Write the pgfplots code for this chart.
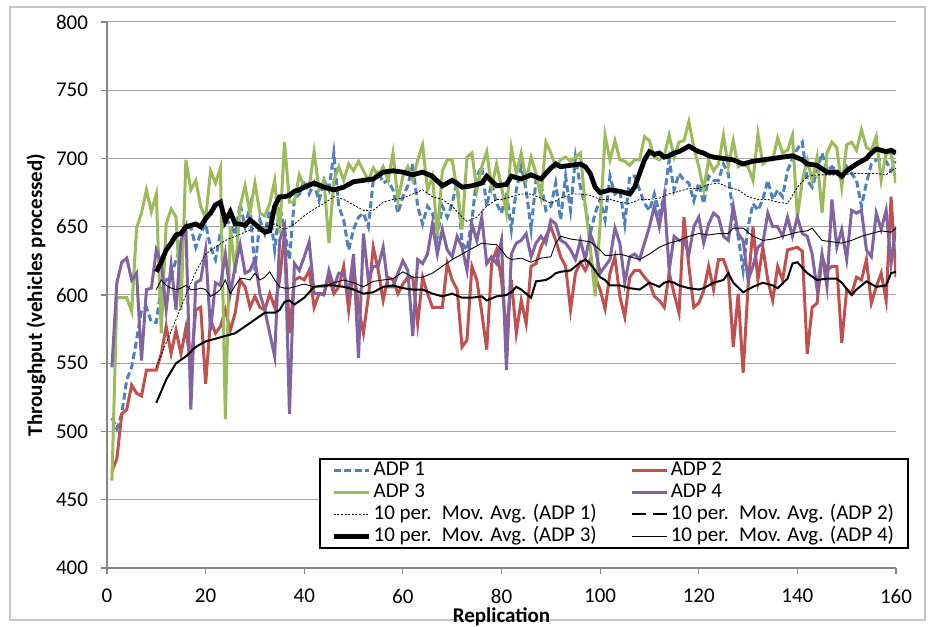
\documentclass[border=0pt]{standalone}
\usepackage{pgfplots}
\pgfplotsset{compat=1.18}
\usepackage{pgfplotstable}
\usepackage{fontspec}
\setmainfont{Carlito}
\definecolor{cBlue}{HTML}{4F81BD}
\definecolor{cRed}{HTML}{C0504D}
\definecolor{cGreen}{HTML}{9BBB59}
\definecolor{cPurple}{HTML}{8064A2}
\definecolor{cAxis}{HTML}{868686}
\definecolor{cGrid}{HTML}{A6A6A6}

\pgfplotstableread{
rep a1 a2 a3 a4
1 510 471 464 547
2 502 480 598 609
3 513 513 598 624
4 538 516 598 627
5 547 534 588 611
6 567 528 649 616
7 589 526 660 552
8 591 545 677 604
9 580 545 661 605
10 580 545 674 633
11 606 557 572 624
12 611 577 652 589
13 613 557 663 622
14 626 574 657 589
15 635 557 589 640
16 648 576 699 650
17 650 547 677 516
18 635 589 684 609
19 645 591 665 611
20 652 535 656 633
21 635 582 691 574
22 626 572 682 609
23 646 577 693 607
24 655 589 509 630
25 652 574 650 601
26 644 587 616 621
27 667 611 665 637
28 650 606 680 616
29 665 591 660 618
30 618 599 682 626
31 655 591 660 601
32 645 589 658 589
33 662 601 667 572
34 633 591 684 555
35 665 611 645 640
36 648 645 712 650
37 626 572 668 513
38 670 611 668 623
39 674 613 688 618
40 684 611 679 628
41 674 618 679 639
42 682 591 705 601
43 669 601 677 601
44 684 601 684 600
45 677 613 638 618
46 704 601 684 606
47 665 606 694 616
48 655 621 684 616
49 633 589 696 601
50 648 621 691 630
51 657 591 698 554
52 660 572 691 645
53 650 599 684 611
54 684 635 693 621
55 691 618 687 621
56 682 596 694 635
57 684 613 684 606
58 677 611 704 606
59 660 601 669 616
60 672 608 687 625
61 680 613 694 618
62 696 613 684 570
63 665 579 699 626
64 652 613 710 623
65 665 601 677 630
66 660 591 687 652
67 643 591 643 630
68 665 591 691 648
69 657 623 699 633
70 667 611 699 628
71 684 604 677 643
72 638 562 648 635
73 633 567 701 618
74 655 621 704 652
75 687 611 677 640
76 694 587 694 657
77 665 560 705 623
78 682 623 679 628
79 667 633 696 623
80 660 611 679 640
81 675 572 660 545
82 648 611 708 630
83 677 572 689 638
84 694 596 704 640
85 677 579 684 645
86 648 621 701 628
87 684 623 689 638
88 682 635 672 643
89 662 643 712 638
90 665 650 704 655
91 682 640 694 652
92 655 628 699 640
93 687 621 701 638
94 662 589 698 633
95 701 616 701 626
96 679 624 704 640
97 665 618 665 626
98 645 626 635 645
99 660 613 599 635
100 670 604 652 616
101 655 590 717 621
102 687 616 699 626
103 674 628 713 649
104 677 599 699 638
105 652 584 698 609
106 687 613 695 628
107 687 618 699 630
108 677 618 699 626
109 667 613 716 638
110 662 609 713 650
111 674 599 701 665
112 660 596 699 650
113 672 591 702 672
114 699 616 717 618
115 677 601 701 643
116 689 587 712 640
117 684 657 713 640
118 682 621 727 630
119 669 591 708 650
120 682 594 694 657
121 667 603 677 638
122 687 621 699 652
123 684 604 691 660
124 684 626 696 657
125 696 626 717 643
126 689 616 694 640
127 657 562 713 665
128 643 601 694 645
129 618 543 696 640
130 650 606 694 611
131 667 650 684 621
132 662 611 718 635
133 670 635 696 638
134 684 611 699 660
135 670 596 699 650
136 677 621 715 650
137 672 611 704 643
138 691 633 706 657
139 700 634 717 643
140 707 635 657 657
141 712 632 684 645
142 684 557 699 643
143 679 591 684 630
144 691 594 701 604
145 704 628 660 630
146 691 618 704 606
147 694 621 712 670
148 691 621 708 635
149 684 565 679 648
150 694 604 710 626
151 689 601 712 662
152 684 613 706 660
153 665 611 721 662
154 682 626 708 633
155 696 594 706 628
156 699 606 716 660
157 699 616 684 648
158 698 596 704 662
159 691 672 704 623
160 698 613 682 650
}\data

\pgfplotstableread{
x y
10 547
12 565
14 582
16 600
18 617
20 630
22 635
24 640
26 643
28 646
30 649
32 650
34 652
36 648
38 652
40 658
42 663
44 667
46 672
48 670
50 666
52 662
54 662
56 668
58 670
60 671
62 674
64 677
66 672
68 670
70 665
72 657
73 654
75 657
77 665
79 670
80 670
82 672
84 674
86 674
88 671
90 667
92 671
94 674
96 674
98 673
100 670
102 670
104 668
106 667
108 670
110 670
112 671
114 674
116 676
118 678
120 678
122 681
124 682
126 679
128 677
130 672
132 670
134 670
136 668
138 667
140 679
142 687
144 688
148 688
152 689
156 689
158 688
159 691
160 693
}\maone

\pgfplotstableread{
x y
10 521
12 538
14 550
16 555
18 562
20 566
22 568
24 570
26 572
28 577
30 582
32 587
34 587
35 589
36 595
37 596
38 593
40 598
42 606
44 607
46 607
48 606
50 604
52 601
54 602
56 606
58 607
60 605
62 604
64 604
66 601
68 599
70 601
72 598
74 598
76 599
77 596
79 599
81 600
82 602
83 606
84 604
86 598
87 610
89 611
90 613
91 616
92 617
94 618
96 624
97 626
98 623
99 618
100 613
101 611
102 607
104 607
106 605
108 604
110 609
112 606
113 609
114 610
115 609
116 607
118 605
120 604
121 605
122 607
123 609
125 611
126 616
127 609
129 602
131 606
133 609
135 607
136 605
138 612
139 623
140 624
141 620
142 616
144 611
146 612
148 612
149 609
151 600
152 604
154 610
156 606
158 607
159 616
160 617
}\matwo

\pgfplotstableread{
x y
10 617
11 624
12 633
13 638
14 644
15 645
16 650
17 651
18 652
19 650
20 656
21 660
22 666
23 668
24 654
25 661
26 652
27 652
28 651
29 655
30 652
31 649
32 646
33 647
34 665
35 672
36 672
37 673
38 676
39 677
40 679
42 682
44 679
46 677
48 679
50 683
52 684
54 685
56 690
58 691
60 690
62 688
64 690
66 687
68 680
70 684
72 679
74 680
76 682
77 687
79 680
81 681
82 687
84 685
86 688
88 685
90 693
91 696
92 694
94 695
96 696
97 694
98 689
99 679
100 675
101 676
102 677
104 676
106 674
107 679
108 689
109 699
110 705
111 703
112 704
113 701
114 702
115 704
116 705
117 707
118 709
119 707
120 705
121 704
122 702
123 701
125 700
127 699
129 696
131 698
133 699
135 700
137 701
139 702
141 699
142 696
144 695
146 690
148 690
149 687
150 691
152 696
154 700
155 704
156 707
158 705
159 706
160 704
}\mathree

\pgfplotstableread{
x y
10 604
11 611
12 607
13 605
14 604
15 605
16 607
17 604
18 604
19 605
20 604
21 599
22 601
23 604
24 611
25 601
26 607
27 612
28 612
29 611
30 616
31 611
32 613
33 617
34 611
35 606
36 605
37 605
38 606
40 608
42 606
44 606
46 609
48 611
50 609
52 606
54 610
56 611
58 612
60 617
62 613
64 613
66 616
68 621
70 626
72 630
74 634
76 638
78 637
79 637
80 633
81 628
82 626
84 627
86 624
88 627
90 628
91 638
92 643
94 641
96 640
98 639
100 633
101 629
102 629
104 630
106 628
108 626
110 630
112 635
114 638
116 640
118 643
120 645
122 644
124 645
126 645
127 649
129 649
131 643
133 640
135 641
137 643
139 645
140 646
142 647
143 649
145 640
147 639
149 638
151 640
153 643
155 645
157 647
159 646
160 649
}\mafour

\begin{document}
\begin{tikzpicture}[x=1pt,y=1pt]
\path[use as bounding box] (0,0) rectangle (466.5,313.5);
\draw[gray!45, line width=0.6pt] (5,3.5) rectangle (462.5,310);
\begin{axis}[
  at={(53.5pt,29.5pt)}, anchor=south west,
  scale only axis, width=394.5pt, height=273pt,
  xmin=0, xmax=160, ymin=400, ymax=800,
  xtick={0,20,...,160}, ytick={400,450,...,800},
  ymajorgrids, grid style={cGrid, line width=0.5pt},
  axis x line*=bottom, axis y line*=left,
  axis line style={-, cAxis, line width=0.6pt},
  tick style={cAxis, line width=0.6pt},
  tick align=outside, major tick length=3pt,
  /pgf/number format/assume math mode=true,
  ticklabel style={font=\fontsize{10.5}{12.5}\selectfont},
  xticklabel style={yshift=-4pt},
  yticklabel style={xshift=-3pt},
  xlabel={\textbf{Replication}},
  ylabel={\textbf{Throughput (vehicles processed)}},
  label style={font=\fontsize{10.5}{12.5}\selectfont},
  xlabel style={at={(axis description cs:0.5,-0.0897)}, anchor=center},
  ylabel style={at={(axis description cs:-0.0900,0.5)}, anchor=center},
  legend image code/.code={\draw[#1] (0pt,0pt) -- (17.5pt,0pt);},
  legend columns=2,
  legend cell align=left,
  legend style={at={(axis description cs:0.2687,0.2015)}, anchor=north west,
    draw=black, line width=0.8pt, fill=white,
    font=\fontsize{10.5}{12.5}\selectfont,
    inner xsep=5.75pt, inner ysep=0.25pt,
    nodes={text height=7pt, text depth=2pt, inner ysep=1pt, inner xsep=1.25pt},
    /tikz/every even column/.append style={column sep=15.5pt}},
]
\addplot[cBlue, line width=1.5pt, dash pattern=on 3.5pt off 1.75pt] table[x=rep,y=a1] {\data};
\addlegendentry{ADP 1}
\addplot[cRed, line width=1.5pt] table[x=rep,y=a2] {\data};
\addlegendentry{ADP 2}
\addplot[cGreen, line width=1.5pt] table[x=rep,y=a3] {\data};
\addlegendentry{ADP 3}
\addplot[cPurple, line width=1.5pt] table[x=rep,y=a4] {\data};
\addlegendentry{ADP 4}
\addplot[black, line width=0.4pt, dash pattern=on 1pt off 0.8pt] table[x=x,y=y] {\maone};
\addlegendentry{10 per.\hspace{2pt} Mov. Avg. (ADP 1)}
\addplot[black, line width=1pt,
  legend image code/.code={\draw[black, line width=1pt, dash pattern=on 7pt off 3.5pt] (0pt,0pt) -- (17.5pt,0pt);}]
  table[x=x,y=y] {\matwo};
\addlegendentry{10 per.\hspace{2pt} Mov. Avg. (ADP 2)}
\addplot[black, line width=2.4pt] table[x=x,y=y] {\mathree};
\addlegendentry{10 per.\hspace{2pt} Mov. Avg. (ADP 3)}
\addplot[black, line width=0.45pt] table[x=x,y=y] {\mafour};
\addlegendentry{10 per.\hspace{2pt} Mov. Avg. (ADP 4)}
\end{axis}
\end{tikzpicture}
\end{document}
